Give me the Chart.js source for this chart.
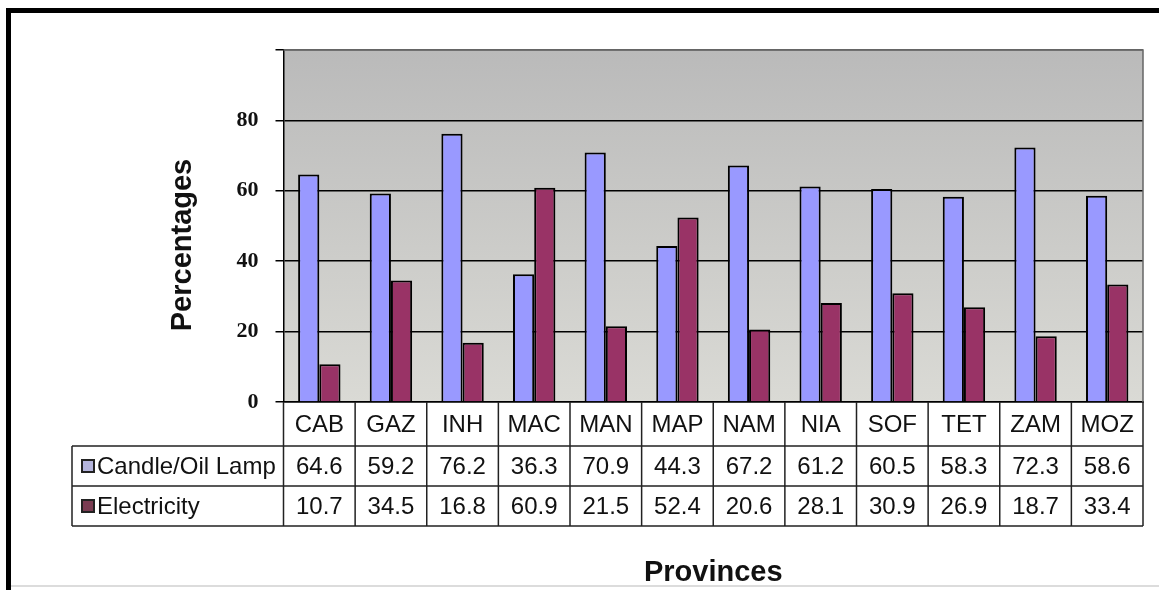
<!DOCTYPE html>
<html>
<head>
<meta charset="utf-8">
<title>Lighting source by province</title>
<script src="https://cdn.jsdelivr.net/npm/chart.js@4.4.1/dist/chart.umd.min.js"></script>
<style>
  html, body { margin: 0; padding: 0; background: #fff; }
  #wrap { width: 1159px; height: 590px; position: relative; }
</style>
</head>
<body>
<div id="wrap"><canvas id="chart" width="1159" height="590"></canvas></div>
<script>
// Provinces (abbreviations) and the share of households by main lighting source (%)
const provinces = ['CAB', 'GAZ', 'INH', 'MAC', 'MAN', 'MAP', 'NAM', 'NIA', 'SOF', 'TET', 'ZAM', 'MOZ'];
const candleOilLamp = [64.6, 59.2, 76.2, 36.3, 70.9, 44.3, 67.2, 61.2, 60.5, 58.3, 72.3, 58.6];
const electricity = [10.7, 34.5, 16.8, 60.9, 21.5, 52.4, 20.6, 28.1, 30.9, 26.9, 18.7, 33.4];
const seriesNames = ['Candle/Oil Lamp', 'Electricity'];
const yTicks = [0, 20, 40, 60, 80];

const SANS = '"Liberation Sans", Arial, sans-serif';
const SERIF = '"Liberation Serif", "Times New Roman", serif';
const COLORS = ['#9999FF', '#993366'];

// Frame, plot background, data table beneath the axis and the vertical axis title
const tablePlugin = {
  id: 'dataTable',
  beforeDraw(chart) {
    const { ctx, chartArea: a } = chart;
    ctx.save();
    // plot area: grey gradient
    const g = ctx.createLinearGradient(0, a.top, 0, a.bottom);
    g.addColorStop(0, '#bababa');
    g.addColorStop(1, '#dadad5');
    ctx.fillStyle = g;
    ctx.fillRect(a.left, a.top, a.right - a.left, a.bottom - a.top);
    ctx.restore();
  },
  afterDraw(chart) {
    const { ctx, chartArea: a, scales: { x } } = chart;
    const rowTop = a.bottom;
    const r1 = rowTop + 44, r2 = r1 + 40, r3 = r2 + 40;
    const tableLeft = 72;
    ctx.save();

    // plot border (top and right)
    ctx.strokeStyle = '#666';
    ctx.lineWidth = 1.5;
    ctx.beginPath();
    ctx.moveTo(a.left, a.top);
    ctx.lineTo(a.right, a.top);
    ctx.lineTo(a.right, a.bottom);
    ctx.stroke();

    // table grid
    ctx.strokeStyle = '#222';
    ctx.lineWidth = 1.5;
    ctx.beginPath();
    [r1, r2, r3].forEach(y => { ctx.moveTo(tableLeft, y); ctx.lineTo(a.right, y); });
    ctx.moveTo(tableLeft, r1); ctx.lineTo(tableLeft, r3);
    const step = (a.right - a.left) / provinces.length;
    for (let i = 0; i <= provinces.length; i++) {
      const px = i < provinces.length ? x.getPixelForValue(i) - step / 2 : a.right;
      ctx.moveTo(px, rowTop); ctx.lineTo(px, r3);
    }
    ctx.stroke();

    // legend keys and series names
    ctx.font = '24px ' + SANS;
    ctx.textBaseline = 'middle';
    ctx.textAlign = 'left';
    const rows = [[candleOilLamp, (r1 + r2) / 2], [electricity, (r2 + r3) / 2]];
    const keyFill = ['#b4b4dc', '#7a3c52'];
    rows.forEach(([vals, cy], k) => {
      ctx.fillStyle = keyFill[k];
      ctx.fillRect(82, cy - 6, 12, 12);
      ctx.strokeStyle = '#222';
      ctx.lineWidth = 2;
      ctx.strokeRect(82, cy - 6, 12, 12);
      ctx.fillStyle = '#111';
      ctx.textAlign = 'left';
      ctx.fillText(seriesNames[k], 97, cy + 1);
      ctx.textAlign = 'center';
      vals.forEach((v, i) => ctx.fillText(v.toFixed(1), x.getPixelForValue(i), cy + 1));
    });

    // vertical axis title
    ctx.translate(183, 245);
    ctx.rotate(-Math.PI / 2);
    ctx.font = 'bold 29px ' + SANS;
    ctx.textAlign = 'center';
    ctx.textBaseline = 'middle';
    ctx.fillStyle = '#111';
    ctx.fillText('Percentages', 0, 0);
    ctx.restore();

    // outer frame
    ctx.save();
    ctx.fillStyle = '#000';
    ctx.fillRect(6, 8, 1153, 5);
    ctx.fillRect(6, 8, 5, 582);
    ctx.fillStyle = '#dcdcdc';
    ctx.fillRect(11, 585, 1148, 2);
    ctx.restore();
  }
};

new Chart(document.getElementById('chart'), {
  type: 'bar',
  data: {
    labels: provinces,
    datasets: [
      { label: seriesNames[0], data: candleOilLamp, backgroundColor: COLORS[0] },
      { label: seriesNames[1], data: electricity, backgroundColor: COLORS[1] }
    ]
  },
  options: {
    responsive: false,
    animation: false,
    layout: { padding: { top: 50, right: 16, left: 0, bottom: 0 } },
    datasets: {
      bar: {
        borderColor: '#000',
        borderWidth: 2,
        categoryPercentage: 0.592,
        barPercentage: 1.0
      }
    },
    plugins: {
      legend: { display: false },
      tooltip: { enabled: false }
    },
    scales: {
      x: {
        grid: { display: false },
        border: { display: true, color: '#000', width: 1.5 },
        ticks: {
          color: '#111',
          font: { family: SANS, size: 24 },
          padding: 1,
          maxRotation: 0
        },
        title: {
          display: true,
          text: 'Provinces',
          color: '#111',
          font: { family: SANS, size: 29, weight: 'bold' },
          padding: { top: 0, bottom: 0 }
        },
        afterFit(scale) { scale.height = 188; }
      },
      y: {
        min: 0,
        max: 100,
        afterBuildTicks(scale) {
          scale.ticks = yTicks.concat([100]).map(v => ({ value: v }));
        },
        grid: {
          color: ctx => (ctx.tick && ctx.tick.value === 100 ? '#666' : '#000'),
          lineWidth: 1.5,
          drawTicks: true,
          tickLength: 8,
          tickColor: '#000'
        },
        border: { display: true, color: '#000', width: 1.5 },
        ticks: {
          color: '#111',
          font: { family: SERIF, size: 22, weight: 'bold' },
          padding: 17,
          callback: v => (yTicks.includes(v) ? String(v) : '')
        },
        afterFit(scale) { scale.width = 283.5; }
      }
    }
  },
  plugins: [tablePlugin]
});
</script>
</body>
</html>
